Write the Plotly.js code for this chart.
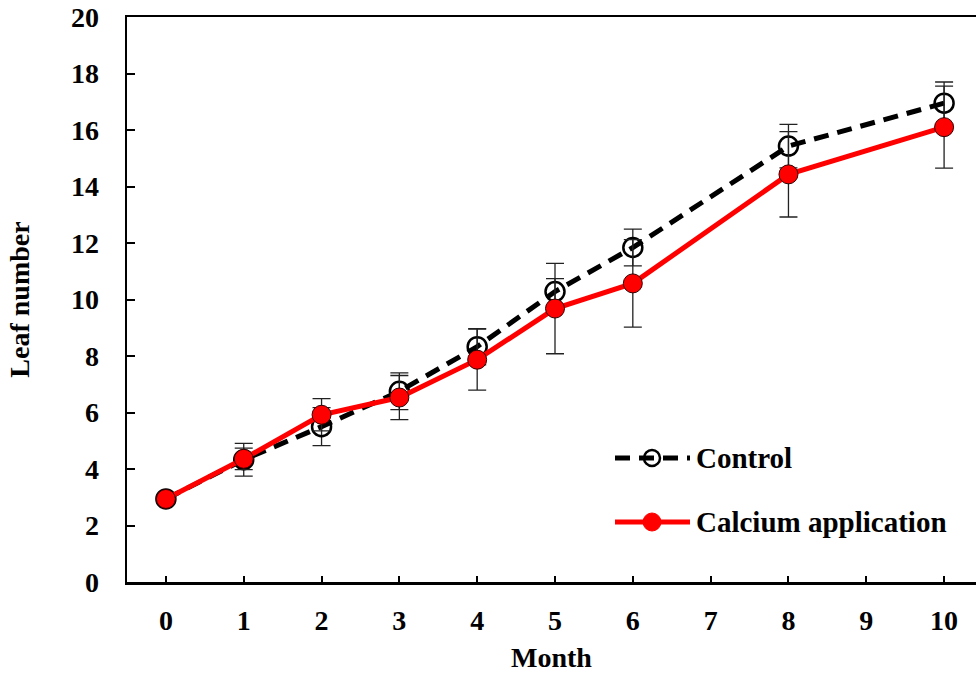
<!DOCTYPE html>
<html><head><meta charset="utf-8">
<script src="https://cdn.plot.ly/plotly-3.0.1.min.js"></script>
<style>html,body{margin:0;padding:0;background:#fff;}#chart{width:976px;height:673px;}</style>
</head><body><div id="chart"></div>
<script>
const months = [0, 1, 2, 3, 4, 5, 6, 8, 10];
const controlMean = [2.94, 4.33, 5.50, 6.75, 8.33, 10.28, 11.84, 15.43, 16.95];
const controlErr = [0, 0.58, 0.67, 0.65, 0.64, 0.46, 0.65, 0.77, 0.75];
const calciumMean = [2.94, 4.36, 5.92, 6.53, 7.87, 9.68, 10.57, 14.43, 16.10];
const calciumErr = [0, 0.38, 0.57, 0.78, 1.08, 1.60, 1.55, 1.51, 1.45];
const xTicks = [0,1,2,3,4,5,6,7,8,9,10];
const legendNames = ['Control', 'Calcium application'];

const fontFam = '"Liberation Serif", "Times New Roman", serif';
const L = 127, R = 976, T = 17, B = 582;
const px = v => (v - L) / (R - L);
const py = v => (B - v) / (B - T);

const traces = [
  {x: months, y: controlMean, name: legendNames[0], type: 'scatter', mode: 'lines+markers',
   line: {color: '#000', width: 5, dash: '15px,9px'},
   marker: {symbol: 'circle-open', size: 19, color: '#000', line: {width: 2.5, color: '#000'}},
   error_y: {type: 'data', array: controlErr, visible: true, color: '#222', thickness: 1.3, width: 9},
   showlegend: false},
  {x: months, y: calciumMean, name: legendNames[1], type: 'scatter', mode: 'lines+markers',
   line: {color: '#ff0000', width: 5},
   marker: {symbol: 'circle', size: 19, color: '#ff0000', line: {width: 1, color: '#300'}},
   error_y: {type: 'data', array: calciumErr, visible: true, color: '#222', thickness: 1.3, width: 9},
   showlegend: false}
];

const shapes = [
  {type: 'line', xref: 'paper', yref: 'paper', x0: px(615), x1: px(690), y0: py(458), y1: py(458),
   line: {color: '#000', width: 5, dash: '15px,9px'}},
  {type: 'circle', xref: 'paper', yref: 'paper', x0: px(644), x1: px(660), y0: py(466), y1: py(450),
   line: {color: '#000', width: 2.5}, fillcolor: 'rgba(0,0,0,0)'},
  {type: 'line', xref: 'paper', yref: 'paper', x0: px(615), x1: px(690), y0: py(522), y1: py(522),
   line: {color: '#ff0000', width: 5}},
  {type: 'circle', xref: 'paper', yref: 'paper', x0: px(643), x1: px(661), y0: py(531), y1: py(513),
   line: {color: '#ff0000', width: 1}, fillcolor: '#ff0000'}
];

const annotations = [
  {text: legendNames[0], xref: 'paper', yref: 'paper', x: px(694), y: py(458), xanchor: 'left', yanchor: 'middle',
   showarrow: false, font: {family: fontFam, size: 29, color: '#000', weight: 'bold'}},
  {text: legendNames[1], xref: 'paper', yref: 'paper', x: px(694), y: py(522), xanchor: 'left', yanchor: 'middle',
   showarrow: false, font: {family: fontFam, size: 29, color: '#000', weight: 'bold'}}
];

const layout = {
  width: 976, height: 673,
  margin: {l: L, r: 976 - R, t: T, b: 673 - B},
  paper_bgcolor: '#fff', plot_bgcolor: '#fff',
  showlegend: false,
  font: {family: fontFam, size: 28, color: '#000', weight: 'bold'},
  xaxis: {range: [-0.5, 10.41], tickvals: xTicks, ticktext: xTicks.map(String),
    showgrid: false, zeroline: false, showline: true, linecolor: '#000', linewidth: 2.5,
    mirror: true, ticks: 'inside', ticklen: 6, tickwidth: 2, tickcolor: '#000',
    ticklabelstandoff: 12,
    tickfont: {family: fontFam, size: 28, color: '#000', weight: 'bold'},
    title: {text: 'Month', font: {family: fontFam, size: 28, color: '#000', weight: 'bold'}, standoff: 13}},
  yaxis: {range: [0, 20], dtick: 2, tick0: 0,
    showgrid: false, zeroline: false, showline: true, linecolor: '#000', linewidth: 2.5,
    mirror: false, ticks: 'inside', ticklen: 8, tickwidth: 2, tickcolor: '#000',
    ticklabelstandoff: 20,
    tickfont: {family: fontFam, size: 28, color: '#000', weight: 'bold'},
    title: {text: 'Leaf number', font: {family: fontFam, size: 28, color: '#000', weight: 'bold'}, standoff: 33}},
  shapes: shapes,
  annotations: annotations
};

Plotly.newPlot('chart', traces, layout, {displayModeBar: false, staticPlot: true});
</script></body></html>
